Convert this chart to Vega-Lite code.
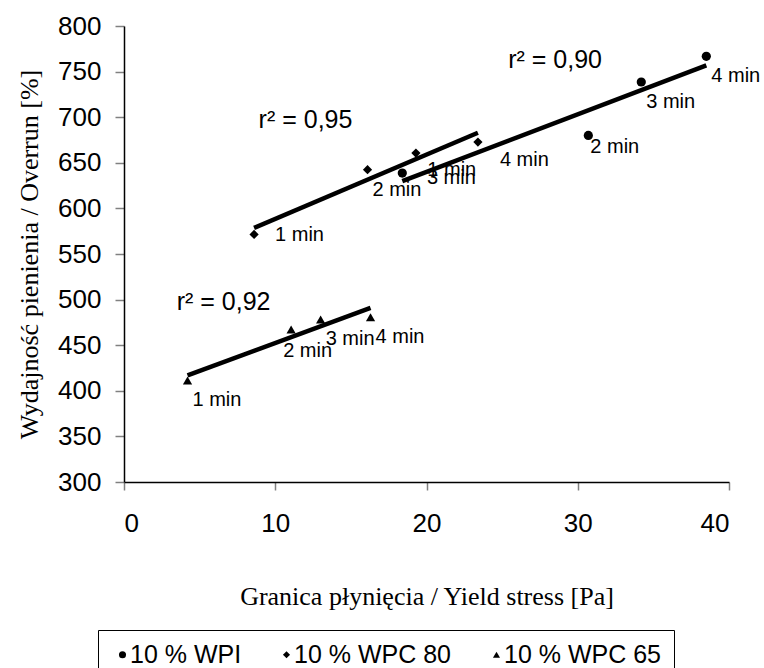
{
  "$schema": "https://vega.github.io/schema/vega-lite/v6.json",
  "width": 605,
  "height": 456,
  "autosize": {"type": "none"},
  "padding": {"left": 124, "top": 26, "right": 35, "bottom": 186},
  "background": "white",
  "config": {"view": {"stroke": null}, "font": "Liberation Sans"},
  "datasets": {
    "pts": [
      {"series": "10 % WPI", "t": "1 min", "x": 18.4, "y": 638.7},
      {"series": "10 % WPI", "t": "2 min", "x": 30.7, "y": 680.0},
      {"series": "10 % WPI", "t": "3 min", "x": 34.2, "y": 738.6},
      {"series": "10 % WPI", "t": "4 min", "x": 38.5, "y": 766.8},
      {"series": "10 % WPC 80", "t": "1 min", "x": 8.6, "y": 571.4},
      {"series": "10 % WPC 80", "t": "2 min", "x": 16.1, "y": 642.4},
      {"series": "10 % WPC 80", "t": "3 min", "x": 19.3, "y": 660.7},
      {"series": "10 % WPC 80", "t": "4 min", "x": 23.4, "y": 672.7},
      {"series": "10 % WPC 65", "t": "1 min", "x": 4.2, "y": 411.3},
      {"series": "10 % WPC 65", "t": "2 min", "x": 11.05, "y": 467.2},
      {"series": "10 % WPC 65", "t": "3 min", "x": 13.0, "y": 478.2},
      {"series": "10 % WPC 65", "t": "4 min", "x": 16.3, "y": 480.7}
    ],
    "r2": [
      {"label": "r² = 0,90", "x": 25.4, "y": 762.4},
      {"label": "r² = 0,95", "x": 8.9, "y": 696.5},
      {"label": "r² = 0,92", "x": 3.48, "y": 497.2}
    ]
  },
  "layer": [
    {
      "data": {"name": "pts"},
      "transform": [{"regression": "y", "on": "x", "groupby": ["series"]}],
      "mark": {"type": "line", "color": "black", "strokeWidth": 4.5},
      "encoding": {
        "x": {
          "field": "x", "type": "quantitative",
          "scale": {"domain": [0, 40], "nice": false, "zero": false},
          "axis": {
            "title": "Granica płynięcia / Yield stress [Pa]",
            "values": [0, 10, 20, 30, 40],
            "grid": false,
            "domainColor": "black", "domainWidth": 1.5,
            "tickColor": "#808080", "tickSize": 8, "tickWidth": 1.5,
            "labelFont": "Liberation Sans", "labelFontSize": 26, "labelColor": "black",
            "labelPadding": 20,
            "titleFont": "Liberation Serif", "titleFontSize": 26, "titleFontWeight": "normal",
            "titleColor": "black", "titlePadding": 47
          }
        },
        "y": {
          "field": "y", "type": "quantitative",
          "scale": {"domain": [300, 800], "nice": false, "zero": false},
          "axis": {
            "title": "Wydajność pienienia / Overrun [%]",
            "values": [300, 350, 400, 450, 500, 550, 600, 650, 700, 750, 800],
            "grid": false,
            "domainColor": "black", "domainWidth": 1.5,
            "tickColor": "#808080", "tickSize": 9, "tickWidth": 1.5,
            "labelFont": "Liberation Sans", "labelFontSize": 26, "labelColor": "black",
            "labelPadding": 14,
            "titleFont": "Liberation Serif", "titleFontSize": 26, "titleFontWeight": "normal",
            "titleColor": "black", "titlePadding": 15
          }
        },
        "detail": {"field": "series", "type": "nominal"}
      }
    },
    {
      "data": {"name": "pts"},
      "mark": {"type": "point", "filled": true, "color": "black", "opacity": 1, "size": 85},
      "encoding": {
        "x": {"field": "x", "type": "quantitative"},
        "y": {"field": "y", "type": "quantitative"},
        "shape": {
          "field": "series", "type": "nominal",
          "scale": {"domain": ["10 % WPI", "10 % WPC 80", "10 % WPC 65"], "range": ["circle", "diamond", "triangle-up"]},
          "legend": {
            "title": null, "orient": "none", "direction": "horizontal",
            "legendX": -26, "legendY": 604,
            "strokeColor": "black", "padding": 12,
            "labelFont": "Liberation Sans", "labelFontSize": 25, "labelColor": "black",
            "symbolSize": 50, "symbolFillColor": "black", "symbolStrokeColor": "black",
            "columnPadding": 32, "labelOffset": -5
          }
        }
      }
    },
    {
      "data": {"name": "pts"},
      "transform": [{"filter": "!((datum.series == '10 % WPI' && (datum.t == '1 min' || datum.t == '2 min')) || (datum.series == '10 % WPC 80' && (datum.t == '1 min' || datum.t == '3 min' || datum.t == '4 min')) || (datum.series == '10 % WPC 65' && datum.t == '2 min'))"}],
      "mark": {"type": "text", "align": "left", "baseline": "middle", "fontSize": 20, "font": "Liberation Sans", "color": "black", "dx": 5, "dy": 20},
      "encoding": {"x": {"field": "x", "type": "quantitative"}, "y": {"field": "y", "type": "quantitative"}, "text": {"field": "t"}}
    },
    {
      "data": {"name": "pts"},
      "transform": [{"filter": "datum.series == '10 % WPI' && datum.t == '1 min'"}],
      "mark": {"type": "text", "align": "left", "baseline": "middle", "fontSize": 20, "font": "Liberation Sans", "color": "black", "dx": 25, "dy": -3},
      "encoding": {"x": {"field": "x", "type": "quantitative"}, "y": {"field": "y", "type": "quantitative"}, "text": {"field": "t"}}
    },
    {
      "data": {"name": "pts"},
      "transform": [{"filter": "datum.series == '10 % WPI' && datum.t == '2 min'"}],
      "mark": {"type": "text", "align": "left", "baseline": "middle", "fontSize": 20, "font": "Liberation Sans", "color": "black", "dx": 2, "dy": 12},
      "encoding": {"x": {"field": "x", "type": "quantitative"}, "y": {"field": "y", "type": "quantitative"}, "text": {"field": "t"}}
    },
    {
      "data": {"name": "pts"},
      "transform": [{"filter": "datum.series == '10 % WPC 80' && datum.t == '1 min'"}],
      "mark": {"type": "text", "align": "left", "baseline": "middle", "fontSize": 20, "font": "Liberation Sans", "color": "black", "dx": 21, "dy": 1},
      "encoding": {"x": {"field": "x", "type": "quantitative"}, "y": {"field": "y", "type": "quantitative"}, "text": {"field": "t"}}
    },
    {
      "data": {"name": "pts"},
      "transform": [{"filter": "datum.series == '10 % WPC 80' && datum.t == '3 min'"}],
      "mark": {"type": "text", "align": "left", "baseline": "middle", "fontSize": 20, "font": "Liberation Sans", "color": "black", "dx": 11, "dy": 25},
      "encoding": {"x": {"field": "x", "type": "quantitative"}, "y": {"field": "y", "type": "quantitative"}, "text": {"field": "t"}}
    },
    {
      "data": {"name": "pts"},
      "transform": [{"filter": "datum.series == '10 % WPC 80' && datum.t == '4 min'"}],
      "mark": {"type": "text", "align": "left", "baseline": "middle", "fontSize": 20, "font": "Liberation Sans", "color": "black", "dx": 22, "dy": 18},
      "encoding": {"x": {"field": "x", "type": "quantitative"}, "y": {"field": "y", "type": "quantitative"}, "text": {"field": "t"}}
    },
    {
      "data": {"name": "pts"},
      "transform": [{"filter": "datum.series == '10 % WPC 65' && datum.t == '2 min'"}],
      "mark": {"type": "text", "align": "left", "baseline": "middle", "fontSize": 20, "font": "Liberation Sans", "color": "black", "dx": -8, "dy": 21},
      "encoding": {"x": {"field": "x", "type": "quantitative"}, "y": {"field": "y", "type": "quantitative"}, "text": {"field": "t"}}
    },
    {
      "data": {"name": "r2"},
      "mark": {"type": "text", "align": "left", "baseline": "middle", "fontSize": 25, "font": "Liberation Sans", "color": "black"},
      "encoding": {"x": {"field": "x", "type": "quantitative"}, "y": {"field": "y", "type": "quantitative"}, "text": {"field": "label"}}
    }
  ]
}
